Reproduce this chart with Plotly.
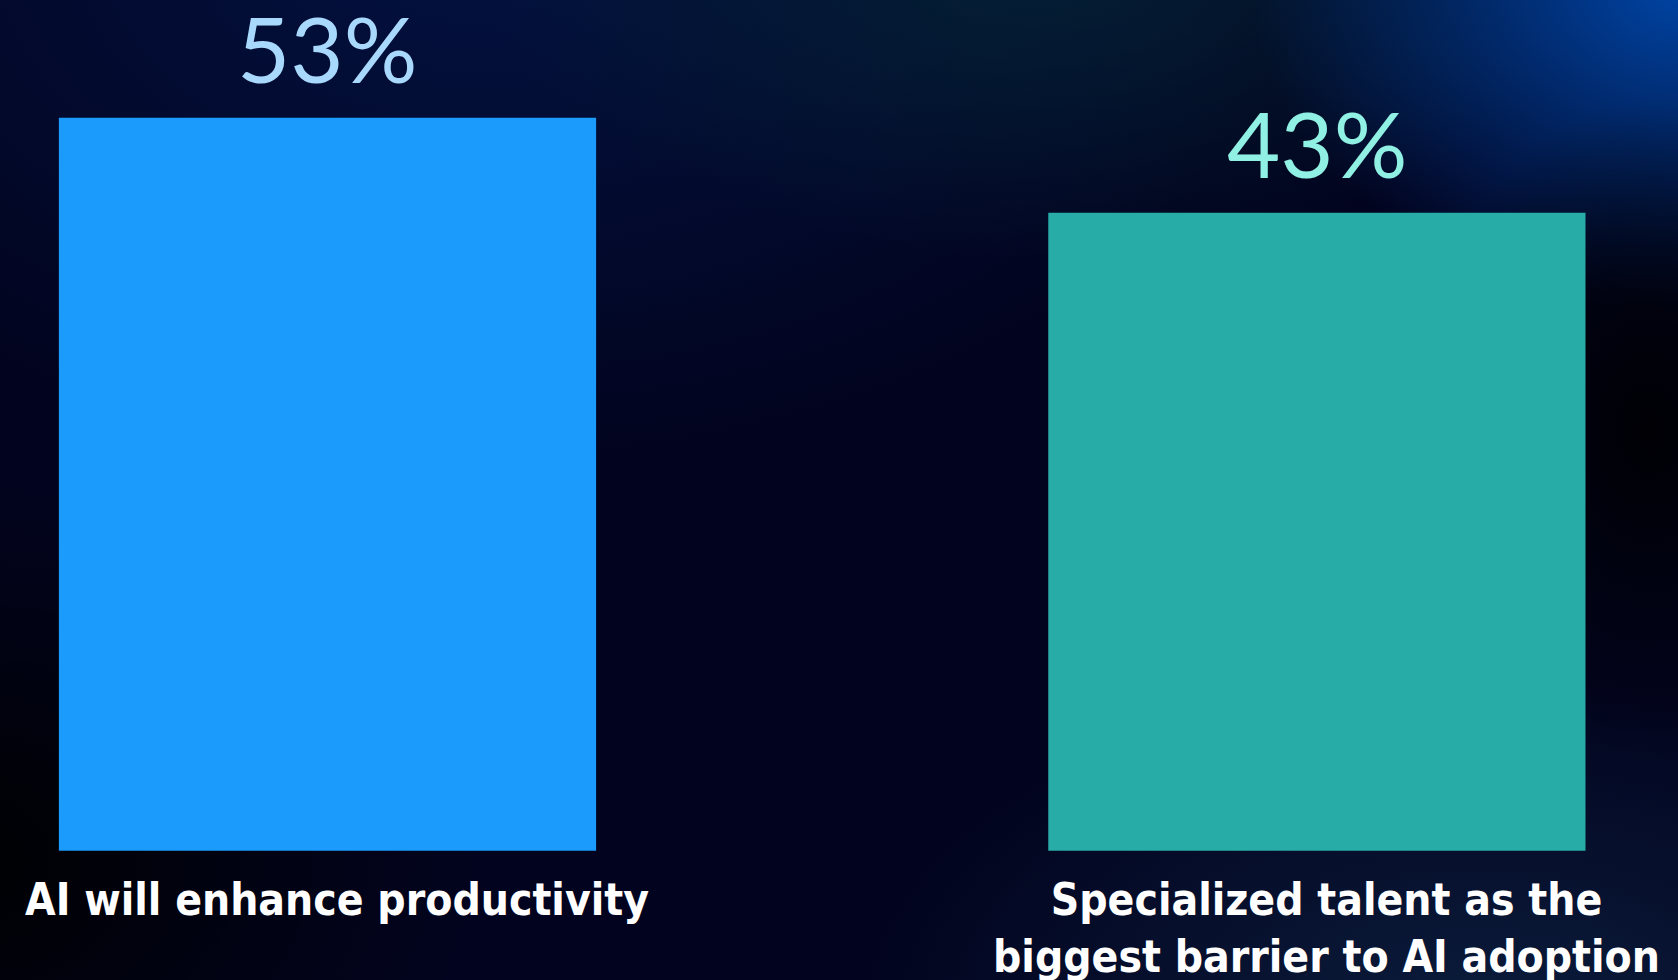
import base64
import plotly.graph_objects as go

# ─── DATA ───────────────────────────────────────────────────────
categories = ["AI will enhance productivity",
              "Specialized talent as the<br>biggest barrier to AI adoption"]
values = [53, 43]
value_labels = [f"{v}%" for v in values]

# ─── STYLE ──────────────────────────────────────────────────────
W, H = 1678, 980
BAR_COLORS = ["#1b9bfc", "#27aca8"]
PCT_COLORS = ["#a8d8fb", "#8ff0e3"]
FLOOR = -24.2                      # axis floor where the bars start
Y_RANGE = [-37.8, 65.4]
X_RANGE = [-0.331, 1.365]
LABEL_FONT = "Liberation Sans Narrow, DejaVu Sans Condensed, Roboto, sans-serif"


def _glow(gid, cx, cy, rx, ry, color, op):
    return (f'<radialGradient id="{gid}" gradientUnits="userSpaceOnUse" cx="0" cy="0" r="1" '
            f'gradientTransform="translate({cx},{cy}) scale({rx},{ry})">'
            f'<stop offset="0" stop-color="{color}" stop-opacity="{op}"/>'
            f'<stop offset="0.55" stop-color="{color}" stop-opacity="{op * 0.45}"/>'
            f'<stop offset="1" stop-color="{color}" stop-opacity="0"/></radialGradient>')


glows = [
    ("g1", 480, -60, 820, 520, "#031446", 0.85),
    ("g2", 1040, -40, 560, 300, "#052638", 0.8),
    ("g3", 1690, -20, 440, 330, "#0046a8", 1.0),
    ("g4", 1480, 1010, 620, 330, "#0c2040", 0.85),
    ("g5", 1650, 430, 230, 330, "#000003", 0.95),
    ("g6", -40, 860, 520, 380, "#000000", 0.95),
]
svg = (f'<svg xmlns="http://www.w3.org/2000/svg" width="{W}" height="{H}" '
       f'viewBox="0 0 {W} {H}" preserveAspectRatio="none"><defs>'
       + "".join(_glow(*g) for g in glows) + '</defs>'
       f'<rect width="{W}" height="{H}" fill="#02041f"/>'
       + "".join(f'<rect width="{W}" height="{H}" fill="url(#{g[0]})"/>' for g in glows)
       + '</svg>')
bg_src = "data:image/svg+xml;base64," + base64.b64encode(svg.encode()).decode()

# ─── FIGURE ─────────────────────────────────────────────────────
fig = go.Figure(go.Bar(
    x=categories, y=[v - FLOOR for v in values], base=FLOOR,
    width=0.543, marker_color=BAR_COLORS, marker_line_width=0,
    hoverinfo="skip",
))

annotations = []
for cat, v, txt, col in zip(categories, values, value_labels, PCT_COLORS):
    annotations.append(dict(x=cat, y=v, text=txt, showarrow=False, yanchor="bottom",
                            yshift=13, font=dict(family="Lato, Open Sans", size=92, color=col)))
    annotations.append(dict(x=cat, y=FLOOR, text=f"<b>{cat}</b>", showarrow=False,
                            yanchor="top", yshift=-21, xshift=10,
                            font=dict(family=LABEL_FONT, size=44, color="white")))

fig.update_layout(
    width=W, height=H,
    margin=dict(l=0, r=0, t=0, b=0),
    paper_bgcolor="#02041f", plot_bgcolor="rgba(0,0,0,0)",
    showlegend=False,
    xaxis=dict(range=X_RANGE, visible=False, fixedrange=True),
    yaxis=dict(range=Y_RANGE, visible=False, fixedrange=True),
    annotations=annotations,
    images=[dict(source=bg_src, xref="paper", yref="paper", x=0, y=1,
                 sizex=1, sizey=1, sizing="stretch", layer="below")],
)

fig.write_html("out.html", config={"displayModeBar": False},
               post_script="document.body.style.margin='0';document.body.style.overflow='hidden';")
